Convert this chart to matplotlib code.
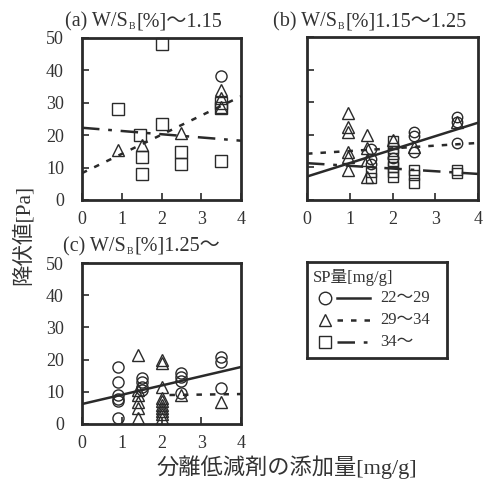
import numpy as np
import matplotlib
matplotlib.use("Agg")
import matplotlib.pyplot as plt

plt.rcParams['font.family'] = ['Liberation Serif', 'Noto Sans CJK JP', 'DejaVu Sans']

INK = '#2a2a2a'
TXT = '#333333'

# panel (a) W/SB ~1.15
a_circ_x = [3.5]
a_circ_y = [38.3]
a_tri_x = [0.9, 1.5, 2.5, 3.5, 3.5, 3.5]
a_tri_y = [15.4, 17.0, 20.7, 34.0, 31.5, 28.7]
a_sq_x = [0.9, 1.45, 1.5, 1.5, 2.0, 2.0, 2.5, 2.5, 3.5, 3.5, 3.5]
a_sq_y = [28.0, 20.0, 13.3, 8.0, 48.0, 23.4, 14.8, 11.0, 12.0, 30.0, 28.5]

# panel (b) 1.15~1.25
b_circ_x = [1.5, 1.5, 1.5, 2.0, 2.5, 2.5, 2.5, 3.5, 3.5, 3.5]
b_circ_y = [15.5, 12.5, 11.0, 13.0, 21.0, 19.5, 14.7, 25.5, 24.0, 17.5]
b_tri_x = [0.95, 0.95, 0.95, 0.95, 0.95, 0.95, 1.4, 1.4, 1.4, 1.4, 2.0, 2.5, 3.5]
b_tri_y = [26.7, 22.4, 20.9, 14.7, 13.2, 9.2, 19.9, 16.0, 12.3, 7.1, 18.4, 16.3, 24.0]
b_sq_x = [2.0, 2.0, 2.0, 2.0, 2.0, 2.0, 2.0, 2.5, 2.5, 2.5, 1.5, 1.5, 3.5, 3.5]
b_sq_y = [18.0, 16.0, 14.0, 12.0, 10.0, 8.5, 7.0, 9.2, 7.7, 5.2, 8.6, 6.7, 9.2, 8.3]

# panel (c) 1.25~
c_circ_x = [0.9, 0.9, 0.9, 0.9, 0.9, 0.9, 1.5, 1.5, 1.5, 1.5,
            2.5, 2.5, 2.5, 2.5, 3.5, 3.5, 3.5]
c_circ_y = [17.7, 13.0, 9.0, 7.8, 7.0, 1.9, 14.2, 13.0, 11.5, 10.5,
            15.8, 14.7, 13.5, 9.6, 20.8, 19.3, 11.2]
c_tri_x = [1.4, 1.4, 1.4, 1.4, 1.4, 1.4, 2.0, 2.0, 2.0, 2.0, 2.0,
           2.0, 2.0, 2.0, 2.0, 2.0, 2.5, 3.5]
c_tri_y = [21.4, 10.5, 9.0, 6.8, 5.0, 1.9, 20.0, 19.0, 11.5, 8.0, 7.0,
           6.0, 5.0, 4.0, 3.0, 2.0, 9.0, 6.8]

# fitted lines: (x_start, x_end, y_at_start, y_at_end)
a_tri_fit = (0, 4, 8.3, 32.0)
a_sq_fit = (0, 4, 22.3, 18.3)
b_circ_fit = (0, 4, 7.2, 23.7)
b_tri_fit = (0, 4, 14.2, 17.5)
b_sq_fit = (0, 4, 11.3, 8.0)
c_circ_fit = (0, 4, 6.2, 17.7)
c_tri_fit = (2.2, 4, 9.0, 9.3)

x_ticks = [0, 1, 2, 3, 4]
y_ticks = [0, 10, 20, 30, 40, 50]
legend_labels = ['22～29', '29～34', '34～']

DASH = (0, (2.2, 3.2))
DASHDOT = (0, (7, 3.5, 1.5, 3.5))

fig = plt.figure(figsize=(4.91, 4.84), dpi=100)
fig.patch.set_facecolor('white')

axa = fig.add_axes([82/491, 1-200/484, 159/491, 162/484])
axb = fig.add_axes([307/491, 1-200/484, 171/491, 163/484])
axc = fig.add_axes([82/491, 1-424/484, 159/491, 161/484])

def pts(ax, x, y, m, ms):
    ax.plot(x, y, linestyle='none', marker=m, ms=ms, mfc='none',
            mec=INK, mew=1.0, clip_on=False, zorder=3)

def fit(ax, f, ls):
    ax.plot([f[0], f[1]], [f[2], f[3]], color=INK, lw=1.8, ls=ls, zorder=2)

for ax in (axa, axb, axc):
    ax.set_xlim(0, 4)
    ax.set_ylim(0, 50)
    ax.set_xticks(x_ticks)
    ax.set_yticks(y_ticks)
    ax.tick_params(direction='in', length=5, width=1.2, color=INK,
                   labelsize=13, labelcolor=TXT)
    ax.tick_params(axis='x', pad=8)
    ax.tick_params(axis='y', pad=13)
    for s in ax.spines.values():
        s.set_linewidth(2)
        s.set_color(INK)

axb.set_yticklabels([])

pts(axa, a_circ_x, a_circ_y, 'o', 8)
pts(axa, a_tri_x, a_tri_y, '^', 9)
pts(axa, a_sq_x, a_sq_y, 's', 8.5)
fit(axa, a_tri_fit, DASH)
fit(axa, a_sq_fit, DASHDOT)

pts(axb, b_circ_x, b_circ_y, 'o', 7.5)
pts(axb, b_tri_x, b_tri_y, '^', 8.5)
pts(axb, b_sq_x, b_sq_y, 's', 7.5)
fit(axb, b_circ_fit, '-')
fit(axb, b_tri_fit, DASH)
fit(axb, b_sq_fit, DASHDOT)

pts(axc, c_circ_x, c_circ_y, 'o', 8)
pts(axc, c_tri_x, c_tri_y, '^', 8.5)
fit(axc, c_circ_fit, '-')
fit(axc, c_tri_fit, DASH)

# panel titles: "W/S" with a small subscript B
def title(x, y, head, tail):
    t1 = fig.text(x/491, 1-y/484, head, fontsize=14.5, color=TXT,
                  ha='left', va='baseline')
    t2 = axa.annotate('B', xy=(1, 0), xycoords=t1, xytext=(0.8, 0),
                      textcoords='offset points', fontsize=7, color=TXT,
                      ha='left', va='bottom', annotation_clip=False)
    axa.annotate(tail, xy=(1, 0), xycoords=(t2, t1), xytext=(0.8, 0),
                 textcoords='offset points', fontsize=14.5, color=TXT,
                 ha='left', va='bottom', annotation_clip=False)

title(65, 26, '(a) W/S', '[%]～1.15')
title(273, 26, '(b) W/S', '[%]1.15～1.25')
title(63, 251, '(c) W/S', '[%]1.25～')

fig.text(23/491, 1-235/484, '降伏値[Pa]', rotation=90, fontsize=15.5,
         color=TXT, ha='center', va='center')
fig.text(287/491, 1-467/484, '分離低減剤の添加量[mg/g]', fontsize=16,
         color=TXT, ha='center', va='center')

# legend box, laid out in pixel units
lg = fig.add_axes([307/491, 1-358/484, 140/491, 96/484])
lg.set_xlim(0, 140)
lg.set_ylim(96, 0)
lg.set_xticks([])
lg.set_yticks([])
for s in lg.spines.values():
    s.set_linewidth(2)
    s.set_color(INK)
lg.text(6, 15, 'SP量[mg/g]', fontsize=12, color=TXT, va='center', ha='left')
for i, (m, ls, lab) in enumerate(zip(['o', '^', 's'], ['-', DASH, DASHDOT],
                                     legend_labels)):
    yy = 36 + 22 * i
    lg.plot([18], [yy], marker=m, ms=9, mfc='none', mec=INK, mew=1.0)
    lg.plot([30, 63], [yy, yy], color=INK, lw=1.8, ls=ls)
    lg.text(73, yy, lab, fontsize=12, color=TXT, va='center', ha='left')

fig.savefig('out.png', dpi=100, facecolor='white')
